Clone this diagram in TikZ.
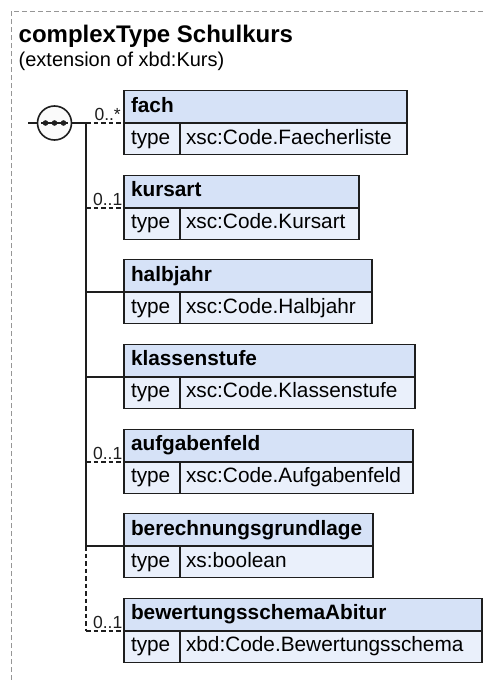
\documentclass[tikz,border=0pt]{standalone}
\usepackage{fontspec}
\setmainfont{Liberation Sans}
\definecolor{hdr}{RGB}{214,226,247}
\definecolor{rowc}{RGB}{234,240,251}
\definecolor{ink}{RGB}{30,30,30}
\definecolor{framegray}{RGB}{150,150,150}
\definecolor{seqfill}{RGB}{250,250,250}
\tikzset{
 box/.style={draw=ink, line width=1.6pt, inner ysep=0pt, outer sep=0pt, anchor=north west, align=left, text height=14.5pt, text depth=4pt, text=black},
 hdrbox/.style={box, fill=hdr, minimum height=32.4pt, inner xsep=7pt, font=\fontsize{20.8}{24}\selectfont\bfseries},
 rowbox/.style={box, fill=rowc, minimum height=31.6pt, font=\fontsize{20.8}{24}\selectfont},
 typebox/.style={rowbox, inner xsep=7pt, text width=42pt},
 valbox/.style={rowbox, inner xsep=6pt},
 conn/.style={draw=ink, line width=1.6pt},
 opt/.style={conn, dash pattern=on 4.5pt off 3pt},
 lbl/.style={font=\fontsize{17.5}{20}\selectfont, inner sep=0pt, anchor=base east, text=ink},
 frame/.style={draw=framegray, line width=1pt, dash pattern=on 5pt off 3pt},
 seqc/.style={circle, draw=ink, line width=1.6pt, fill=seqfill, minimum size=34pt, inner sep=0pt, outer sep=0pt},
}
\begin{document}
\begin{tikzpicture}[x=1pt,y=-1pt]
\useasboundingbox (0,0) rectangle (483,680);
\fill[white] (0,0) rectangle (483,680);
% frame
\draw[frame] (11,680) -- (11,11) -- (483,11);
% titles
\node[anchor=base west, inner sep=0pt, font=\fontsize{24}{28}\selectfont\bfseries] (title) at (18.5,42.3) {complexType Schulkurs};
\node[anchor=base west, inner sep=0pt, font=\fontsize{20}{24}\selectfont] (subtitle) at (18.5,66) {(extension of xbd:Kurs)};

% elements
\node[hdrbox, text width=268.7pt] (fachH) at (124,90.6) {fach};
\node[typebox] (fachT) at (fachH.south west) {type};
\node[valbox, text width=214.7pt] (fachV) at (fachT.north east) {xsc:Code.Faecherliste};

\node[hdrbox, text width=221pt] (kursH) at (124,175.3) {kursart};
\node[typebox] (kursT) at (kursH.south west) {type};
\node[valbox, text width=167pt] (kursV) at (kursT.north east) {xsc:Code.Kursart};

\node[hdrbox, text width=234pt] (halbH) at (124,259.6) {halbjahr};
\node[typebox] (halbT) at (halbH.south west) {type};
\node[valbox, text width=180pt] (halbV) at (halbT.north east) {xsc:Code.Halbjahr};

\node[hdrbox, text width=277pt] (klasH) at (124,344.3) {klassenstufe};
\node[typebox] (klasT) at (klasH.south west) {type};
\node[valbox, text width=223pt] (klasV) at (klasT.north east) {xsc:Code.Klassenstufe};

\node[hdrbox, text width=274.7pt] (aufgH) at (124,429.3) {aufgabenfeld};
\node[typebox] (aufgT) at (aufgH.south west) {type};
\node[valbox, text width=220.7pt] (aufgV) at (aufgT.north east) {xsc:Code.Aufgabenfeld};

\node[hdrbox, text width=235pt] (berH) at (124,513.6) {berechnungsgrundlage};
\node[typebox] (berT) at (berH.south west) {type};
\node[valbox, text width=181pt] (berV) at (berT.north east) {xs:boolean};

\node[hdrbox, text width=344pt] (bewH) at (124,598.3) {bewertungsschemaAbitur};
\node[typebox] (bewT) at (bewH.south west) {type};
\node[valbox, text width=290pt] (bewV) at (bewT.north east) {xbd:Code.Bewertungsschema};

% compositor
\node[seqc] (seq) at (54.5,123) {};
\draw[conn] (41,123) -- (68,123);
\fill[ink] (45.5,123) circle (2.8pt) (54.5,123) circle (2.8pt) (63.5,123) circle (2.8pt);
\coordinate (in) at (28,123);
\draw[conn] (in) -- (seq.west);

% bus
\coordinate (b1) at (86,123);
\coordinate (b2) at (86,207.7);
\coordinate (b3) at (86,292);
\coordinate (b4) at (86,376.7);
\coordinate (b5) at (86,461.7);
\coordinate (b6) at (86,546);
\coordinate (b7) at (86,630.7);
\draw[conn] (seq.east) -- (b1);
\draw[conn] (b1) -- (b6);
\draw[opt] (b6) -- (b7);

% connectors
\draw[opt] (b1) -- (fachH.south west);
\draw[opt] (b2) -- (kursH.south west);
\draw[conn] (b3) -- (halbH.south west);
\draw[conn] (b4) -- (klasH.south west);
\draw[opt] (b5) -- (aufgH.south west);
\draw[conn] (b6) -- (berH.south west);
\draw[opt] (b7) -- (bewH.south west);

% labels
\node[lbl] (l1) at (121,120) {0..*};
\node[lbl] (l2) at (122.5,205) {0..1};
\node[lbl] (l5) at (122.5,459) {0..1};
\node[lbl] (l7) at (122.5,628) {0..1};
\end{tikzpicture}
\end{document}
